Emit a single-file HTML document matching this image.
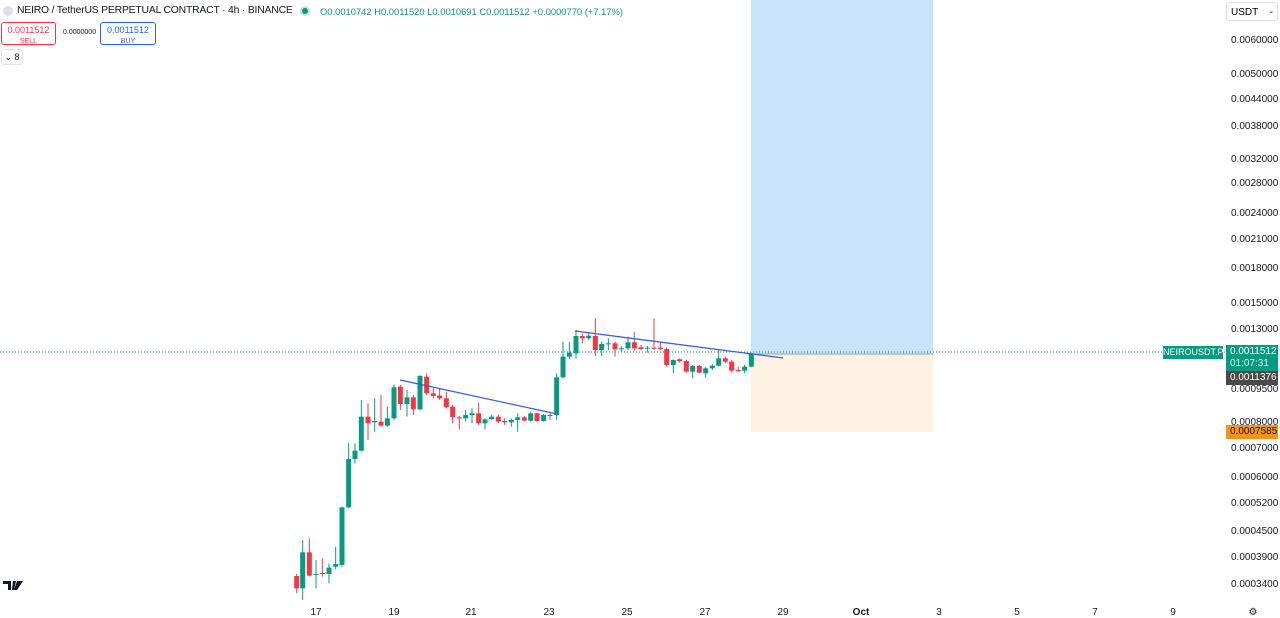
<!DOCTYPE html>
<html><head><meta charset="utf-8"><style>
body{margin:0;width:1280px;height:618px;overflow:hidden;background:#fff;font-family:"Liberation Sans",sans-serif;position:relative}
.t{position:absolute;font-size:10px;color:#131722;white-space:nowrap}
.p{position:absolute;left:1231px;font-size:10px;color:#131722}
.d{position:absolute;top:607px;font-size:10px;color:#131722;transform:translateX(-50%)}
</style></head><body>
<svg width="1280" height="618" style="position:absolute;left:0;top:0">
<rect x="751" y="0" width="182" height="354" fill="#c8e3fa"/>
<rect x="751" y="354" width="182" height="78" fill="#fdf1e1"/>
<line x1="751" y1="354" x2="933" y2="354" fill="none" stroke="#8aa" stroke-width="1"/>
<line x1="0" y1="352" x2="1225" y2="352" stroke="#089981" stroke-width="1" stroke-dasharray="1,2"/>
<g id="c"></g>
<line x1="400" y1="380" x2="557" y2="414" stroke="#3a5fdc" stroke-width="1.3"/>
<line x1="575" y1="331" x2="783" y2="358" stroke="#3a5fdc" stroke-width="1.3"/>
<circle cx="8" cy="11" r="5" fill="#dde1ea"/>
<circle cx="305" cy="11" r="3" fill="#089981"/><circle cx="305" cy="11" r="5" fill="#089981" opacity=".25"/>
<path d="M3 581h8v9h-3v-6h-5z M13 581h3l-2 9h-2z M17 581h6l-6 9h-3z" fill="#131722"/>
</svg>
<script>
var d=[[20,798,835,792,850,0],[38,727,835,690,870,1],[58,727,797,685,800,0],[78,792,795,750,835,1],[97,789,792,745,800,0],[117,773,792,760,820,1],[137,762,770,710,778,1],[156,592,765,590,770,1],[176,447,592,400,595,1],[195,422,447,400,460,1],[214,320,422,270,425,1],[234,320,340,280,390,0],[254,333,337,265,365,1],[273,335,347,255,350,0],[292,325,347,290,350,1],[312,232,325,225,330,1],[331,230,282,225,300,0],[351,262,282,240,320,1],[370,262,298,255,315,0],[390,198,298,195,300,1],[410,200,250,190,255,0],[430,250,258,235,265,0],[449,257,265,235,270,0],[469,265,292,245,295,0],[488,290,322,285,340,0],[508,322,325,318,358,0],[527,315,325,300,335,1],[546,310,315,295,340,1],[566,310,340,278,345,0],[585,328,340,325,358,1],[605,320,327,315,330,1],[625,320,335,315,340,0],[644,333,337,325,345,0],[664,330,337,325,350,1],[683,322,330,310,365,1],[703,322,332,318,334,0],[722,310,332,305,335,1],[741,310,333,308,335,0],[761,315,333,312,335,1],[780,315,318,310,330,0],[800,202,315,190,330,1],[819,140,202,95,205,1],[838,128,140,95,148,1],[858,78,130,60,145,1],[877,78,85,70,100,0],[896,77,85,70,90,1],[916,78,120,25,138,0],[935,102,120,95,138,1],[955,100,103,85,120,1],[975,100,118,95,140,0],[994,115,118,108,125,1],[1014,97,115,80,120,1],[1033,97,115,65,122,0],[1053,112,117,105,120,0],[1072,113,116,108,128,1],[1092,113,116,25,120,0],[1111,113,117,95,120,0],[1130,117,165,112,170,0],[1150,150,165,148,190,1],[1169,148,153,145,158,0],[1189,153,185,150,188,0],[1208,168,185,165,205,1],[1228,168,188,165,190,0],[1247,175,190,170,202,1],[1267,167,175,162,180,1],[1286,145,167,118,170,1],[1306,145,155,140,160,0],[1325,155,182,150,188,0],[1345,180,183,170,185,0],[1364,170,182,165,190,1],[1384,130,170,128,172,1]];
var s='';d.forEach(function(c){var x=290+c[0]/3,t=310+c[1]/3,b=310+c[2]/3,h=310+c[3]/3,l=310+c[4]/3,col=c[5]?'#089981':'#f23645';
s+='<line x1="'+x+'" x2="'+x+'" y1="'+h+'" y2="'+l+'" stroke="'+col+'" stroke-width="1"/>';
s+='<rect x="'+(x-2.5)+'" y="'+t+'" width="5" height="'+Math.max(1,b-t)+'" fill="'+col+'"/>';});
document.getElementById('c').innerHTML=s;
</script>
<div class="t" style="left:17px;top:5px;font-size:10.4px;letter-spacing:-0.2px">NEIRO / TetherUS PERPETUAL CONTRACT · 4h · BINANCE</div>
<div class="t" style="left:320px;top:6px;color:#089981;font-size:9.4px">O0.0010742 H0.0011520 L0.0010691 C0.0011512 +0.0000770 (+7.17%)</div>
<div style="position:absolute;left:1px;top:22px;width:55px;height:23px;border:1px solid #f23645;border-radius:3px;text-align:center;font-size:9px;color:#f23645;line-height:10px;padding-top:2px;box-sizing:border-box">0.0011512<br><span style="font-size:7px">SELL</span></div>
<div class="t" style="left:63px;top:29px;font-size:7px">0.0000000</div>
<div style="position:absolute;left:100px;top:22px;width:56px;height:23px;border:1px solid #2962ff;border-radius:3px;text-align:center;font-size:9px;color:#2962ff;line-height:10px;padding-top:2px;box-sizing:border-box">0.0011512<br><span style="font-size:7px">BUY</span></div>
<div style="position:absolute;left:1px;top:49px;width:20px;height:14px;border:1px solid #e0e3eb;border-radius:3px;font-size:9px;color:#131722;text-align:center;line-height:14px">⌄ 8</div>
<div style="position:absolute;left:1226px;top:2px;width:52px;height:19px;border:1px solid #e0e3eb;border-radius:3px;font-size:10px;line-height:19px;padding-left:4px;box-sizing:border-box">USDT <span style="float:right;margin-right:4px">-</span></div>
<div class="p" style="top:35px">0.0060000</div>
<div class="p" style="top:69px">0.0050000</div>
<div class="p" style="top:94px">0.0044000</div>
<div class="p" style="top:121px">0.0038000</div>
<div class="p" style="top:154px">0.0032000</div>
<div class="p" style="top:178px">0.0028000</div>
<div class="p" style="top:208px">0.0024000</div>
<div class="p" style="top:234px">0.0021000</div>
<div class="p" style="top:263px">0.0018000</div>
<div class="p" style="top:298px">0.0015000</div>
<div class="p" style="top:324px">0.0013000</div>
<div class="p" style="top:384px">0.0009500</div>
<div class="p" style="top:417px">0.0008000</div>
<div class="p" style="top:443px">0.0007000</div>
<div class="p" style="top:472px">0.0006000</div>
<div class="p" style="top:498px">0.0005200</div>
<div class="p" style="top:526px">0.0004500</div>
<div class="p" style="top:552px">0.0003900</div>
<div class="p" style="top:579px">0.0003400</div>
<div style="position:absolute;left:1163px;top:346px;width:60px;height:13px;background:#089981;color:#fff;font-size:9px;line-height:13px;text-align:center;overflow:hidden">NEIROUSDT.P</div>
<div style="position:absolute;left:1226px;top:345px;width:52px;height:26px;background:#089981;color:#fff;font-size:10px;line-height:12px;padding-left:4px;padding-top:1px;box-sizing:border-box">0.0011512<br><span style="color:#d8f0ea">01:07:31</span></div>
<div style="position:absolute;left:1226px;top:371px;width:52px;height:14px;background:#4a4a4a;color:#fff;font-size:10px;line-height:14px;padding-left:4px;box-sizing:border-box">0.0011376</div>
<div style="position:absolute;left:1226px;top:425px;width:52px;height:14px;background:#f7931a;color:#131722;font-size:10px;line-height:14px;padding-left:4px;box-sizing:border-box">0.0007585</div>
<div class="d" style="left:316px">17</div><div class="d" style="left:394px">19</div><div class="d" style="left:471px">21</div><div class="d" style="left:549px">23</div><div class="d" style="left:627px">25</div><div class="d" style="left:705px">27</div><div class="d" style="left:783px">29</div><div class="d" style="left:861px;font-weight:bold">Oct</div><div class="d" style="left:939px">3</div><div class="d" style="left:1017px">5</div><div class="d" style="left:1095px">7</div><div class="d" style="left:1173px">9</div><div class="d" style="left:1253px">⚙</div>
</body></html>
